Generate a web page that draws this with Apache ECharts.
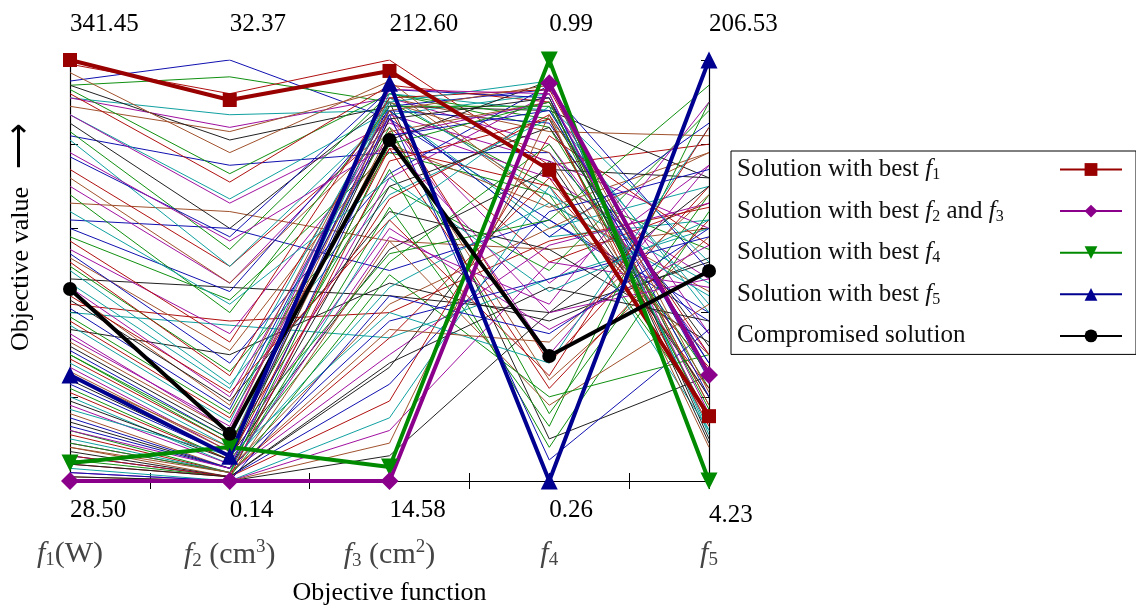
<!DOCTYPE html>
<html>
<head>
<meta charset="utf-8">
<script src="https://cdn.jsdelivr.net/npm/echarts@6/dist/echarts.min.js"></script>
<style>
  html, body { margin: 0; padding: 0; background: #fff; }
  #chart { width: 1136px; height: 608px; }
</style>
</head>
<body>
<div id="chart"></div>
<script>
// axis positions and their labels
const axisPos = [1, 2, 3, 4, 5];
const maxLabels = ['341.45', '32.37', '212.60', '0.99', '206.53'];
const minLabels = ['28.50', '0.14', '14.58', '0.26', '4.23'];
const axisNames = [
  '{i|f}{s|1}{t|(W)}',
  '{i|f}{s|2}{t| (cm}{p|3}{t|)}',
  '{i|f}{s|3}{t| (cm}{p|2}{t|)}',
  '{i|f}{s|4}',
  '{i|f}{s|5}'
];

// highlighted solutions, normalized objective values (%)
const bestF1 = [100, 90.5, 97.4, 73.9, 15.4];
const bestF23 = [0, 0, 0, 94.5, 25.2];
const bestF4 = [4.3, 8.1, 3.3, 100, 0];
const bestF5 = [25.2, 5.9, 94.5, 0, 100];
const compromise = [45.6, 11.2, 81, 29.7, 49.9];

// the rest of the Pareto front (%)
const others = [
  [95, 100, 86, 62, 40], [94, 96, 90, 70, 55], [99, 92, 100, 75, 80], [91, 87, 88, 58, 62],
  [91, 84, 91, 80, 30], [89, 83, 93, 66, 45], [94, 81, 89, 88, 72], [82, 75, 78, 78, 35],
  [93, 73, 92, 84, 22], [92, 71, 94, 90, 18], [87, 67, 88, 60, 70], [87, 66, 85, 72, 48],
  [66, 64, 57, 55, 60], [85, 60, 90, 10, 25], [62, 60, 50, 62, 38], [83, 55, 92, 86, 15],
  [74, 51, 84, 52, 66], [81, 51, 87, 92, 12], [70, 47, 86, 47, 75], [72, 47, 83, 24, 58],
  [48, 46, 44, 40, 52], [60, 45, 88, 85, 28], [58, 43, 78, 68, 16], [42, 38, 40, 57, 65],
  [40, 37, 34, 48, 60], [55, 35, 82, 90, 35], [53, 31, 80, 65, 78], [36, 30, 47, 38, 53],
  [54, 28, 73, 94, 24], [51, 26, 70, 50, 88], [52, 25, 88, 28, 70], [50, 23, 68, 86, 42],
  [46, 20, 87, 76, 60], [45, 18, 91, 83, 82], [43, 19, 64, 55, 33], [41, 17, 89, 93, 50],
  [39, 16, 84, 16, 68], [38, 15, 79, 70, 27], [37, 14, 92, 88, 40], [34, 13, 86, 30, 75],
  [33, 12, 90, 78, 20], [32, 11, 81, 95, 10], [31, 10, 88, 58, 85], [30, 9, 74, 8, 64],
  [29, 9, 67, 87, 30], [28, 8, 91, 68, 47], [27, 7, 60, 36, 56], [26, 7, 83, 90, 18],
  [24, 6, 55, 74, 72], [23, 6, 87, 5, 36], [22, 5, 52, 80, 25], [21, 5, 79, 22, 62],
  [20, 4, 46, 66, 44], [18, 4, 72, 92, 14], [16, 3, 42, 60, 78], [14, 3, 70, 84, 32],
  [13, 3, 38, 48, 58], [12, 2, 65, 13, 90], [11, 2, 34, 72, 22], [10, 2, 62, 89, 52],
  [9, 2, 30, 56, 66], [8, 1, 57, 18, 42], [7, 1, 27, 76, 20], [6, 1, 23, 64, 74],
  [5, 1, 49, 20, 30], [4, 1, 19, 82, 56], [3, 0, 15, 70, 12], [2, 0, 12, 52, 46],
  [1, 0, 9, 87, 8], [1, 0, 6, 40, 70],
  [77, 58, 93, 91, 20], [68, 40, 89, 89, 14], [57, 33, 91, 93, 26], [47, 22, 90, 95, 11],
  [35, 12, 93, 92, 16], [25, 8, 88, 94, 21], [19, 5, 86, 91, 9], [15, 3, 82, 88, 28],
  [9, 2, 80, 90, 17], [6, 1, 76, 86, 13], [17, 6, 40, 28, 84], [12, 3, 58, 42, 90],
  [8, 2, 36, 33, 68], [4, 1, 28, 46, 38], [2, 0, 44, 35, 60], [30, 10, 54, 62, 94],
  [44, 21, 62, 25, 84], [64, 42, 72, 45, 62], [78, 57, 80, 40, 48], [97, 78, 95, 66, 30]
];

const palette = ['#1010b0', '#109010', '#b01010', '#10a0a0', '#a010a0', '#a0522d', '#202020'];
const serif = 'Liberation Serif';

function pts(v) {
  return v.map((y, i) => [axisPos[i], y]);
}

// measure text so legend icons line up in one column
const ctx = document.createElement('canvas').getContext('2d');
function tw(text, font) {
  ctx.font = font;
  return ctx.measureText(text).width;
}

const chart = echarts.init(document.getElementById('chart'), null, { renderer: 'canvas' });

const series = others.map((v, i) => ({
  name: 'bg' + i,
  type: 'line',
  data: pts(v),
  symbol: 'none',
  silent: true,
  z: 2,
  lineStyle: { width: 1, color: palette[i % palette.length] }
}));

function best(name, data, color, symbol, size, rotate) {
  return {
    name: name,
    type: 'line',
    data: pts(data),
    symbol: symbol,
    symbolSize: size,
    symbolRotate: rotate || 0,
    z: 5,
    lineStyle: { width: 4, color: color },
    itemStyle: { color: color }
  };
}

series.push(
  best('b1', bestF1, '#990000', 'rect', 14),
  best('b4', bestF4, '#008a00', 'triangle', 17, 180),
  best('b23', bestF23, '#8b008b', 'diamond', 18),
  best('comp', compromise, '#000000', 'circle', 14),
  best('b5', bestF5, '#000090', 'triangle', 17)
);

const LF = 25;
const legendParts = {
  b1: [['t', 'Solution with best '], ['i', 'f'], ['s', '1']],
  b23: [['t', 'Solution with best '], ['i', 'f'], ['s', '2'], ['t', ' and '], ['i', 'f'], ['s', '3']],
  b4: [['t', 'Solution with best '], ['i', 'f'], ['s', '4']],
  b5: [['t', 'Solution with best '], ['i', 'f'], ['s', '5']],
  comp: [['t', 'Compromised solution']]
};
const fonts = {
  t: LF + 'px "Liberation Serif"',
  i: 'italic ' + LF + 'px "Liberation Serif"',
  s: '16px "Liberation Serif"'
};

const mathRich = {
  t: { fontFamily: serif, fontSize: LF, color: '#111' },
  i: { fontFamily: serif, fontSize: LF, fontStyle: 'italic', color: '#111' },
  s: { fontFamily: serif, fontSize: 16, color: '#111', padding: [11, 0, 0, 0] }
};
const legendText = {};
const textWidth = 318;
Object.keys(legendParts).forEach((k, n) => {
  let w = 0;
  let str = '';
  legendParts[k].forEach(p => {
    w += tw(p[1], fonts[p[0]]);
    str += '{' + p[0] + '|' + p[1] + '}';
  });
  mathRich['sp' + n] = { width: Math.max(1, textWidth - w), fontSize: 2 };
  legendText[k] = str + '{sp' + n + '| }';
});

const nameRich = {
  t: { fontFamily: serif, fontSize: 30, color: '#444' },
  i: { fontFamily: serif, fontSize: 30, fontStyle: 'italic', color: '#444' },
  s: { fontFamily: serif, fontSize: 19, color: '#444', padding: [13, 0, 0, 0] },
  p: { fontFamily: serif, fontSize: 19, color: '#444', padding: [0, 0, 15, 0] }
};

const tickStyle = { show: true, inside: true, length: 8, lineStyle: { color: '#000' } };
const lineStyle = { show: true, lineStyle: { color: '#000', width: 1.2 } };

const option = {
  backgroundColor: '#ffffff',
  animation: false,
  grid: { left: 70, right: 427, top: 60, bottom: 127, outerBoundsMode: 'none' },
  legend: {
    data: ['b1', 'b23', 'b4', 'b5', 'comp'],
    orient: 'vertical',
    left: 731,
    top: 151,
    align: 'right',
    itemWidth: 62,
    itemHeight: 16,
    itemGap: 15.6,
    padding: [6, 13, 6, 6],
    borderColor: '#000',
    borderWidth: 1,
    backgroundColor: '#fff',
    lineStyle: { width: 2 },
    formatter: n => legendText[n],
    textStyle: { rich: mathRich, fontFamily: serif, fontSize: LF }
  },
  xAxis: [
    {
      type: 'value', position: 'bottom', min: 1, max: 5, interval: 0.5,
      axisLine: lineStyle, axisTick: tickStyle, splitLine: { show: false },
      axisLabel: {
        margin: 17, align: 'left', fontFamily: serif, fontSize: 25, color: '#000',
        showMinLabel: true, showMaxLabel: true,
        formatter: v => Number.isInteger(v) ? (v === 5 ? '{low|' + minLabels[4] + '}' : minLabels[v - 1]) : '',
        rich: { low: { fontFamily: serif, fontSize: 25, color: '#000', padding: [5, 0, 0, 0] } }
      }
    },
    {
      type: 'value', position: 'top', min: 1, max: 5, interval: 0.5,
      axisLine: lineStyle, axisTick: tickStyle, splitLine: { show: false },
      axisLabel: {
        margin: 23, align: 'left', fontFamily: serif, fontSize: 25, color: '#000',
        showMinLabel: true, showMaxLabel: true,
        formatter: v => Number.isInteger(v) ? maxLabels[v - 1] : ''
      }
    },
    {
      type: 'value', position: 'bottom', min: 1, max: 5, interval: 0.5,
      axisLine: { show: false }, axisTick: { show: false }, splitLine: { show: false },
      axisLabel: {
        margin: 57, showMinLabel: true, showMaxLabel: true,
        formatter: v => Number.isInteger(v) ? axisNames[v - 1] : '',
        rich: nameRich
      },
      name: 'Objective function',
      nameLocation: 'middle',
      nameGap: 99,
      nameTextStyle: { fontFamily: serif, fontSize: 26, color: '#000' }
    }
  ],
  yAxis: [
    {
      type: 'value', position: 'left', min: 0, max: 100, interval: 20,
      axisLine: lineStyle, axisTick: tickStyle, splitLine: { show: false },
      axisLabel: { show: false }
    },
    {
      type: 'value', position: 'right', min: 0, max: 100, interval: 20,
      axisLine: lineStyle, axisTick: tickStyle, splitLine: { show: false },
      axisLabel: { show: false }
    }
  ],
  graphic: [
    {
      type: 'text',
      x: 21,
      y: 237,
      rotation: Math.PI / 2,
      style: {
        text: '{t|Objective value}{g| }{a|\u27F6}',
        rich: {
          t: { fontFamily: serif, fontSize: 26, fill: '#000' },
          g: { width: 18 },
          a: { fontFamily: serif, fontSize: 32, fill: '#000' }
        },
        align: 'center',
        verticalAlign: 'middle'
      }
    }
  ],
  series: series
};

chart.setOption(option);
</script>
</body>
</html>
